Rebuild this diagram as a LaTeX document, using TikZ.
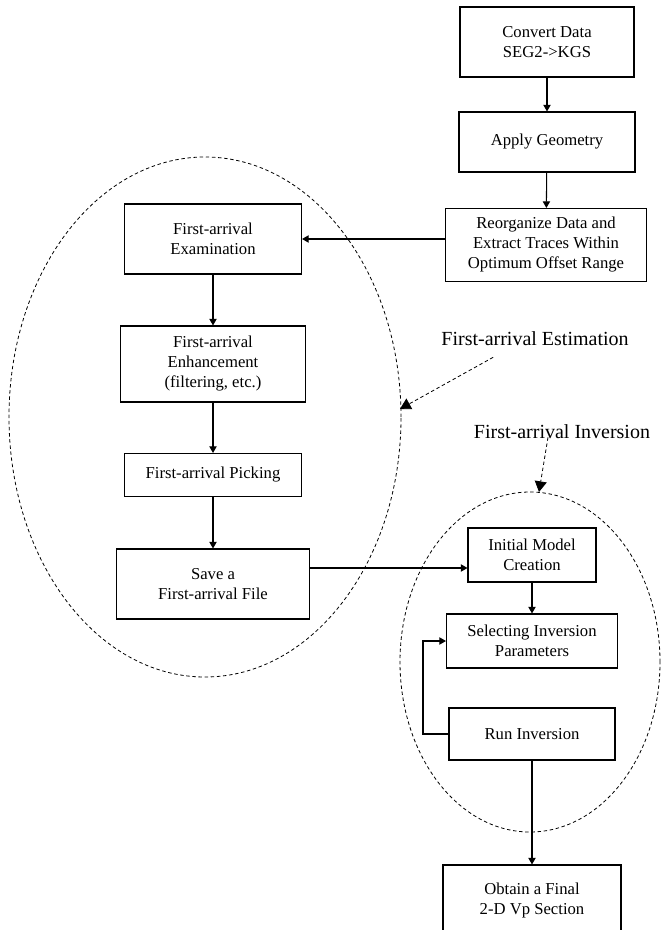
\documentclass[tikz,border=0pt]{standalone}
\usepackage{fontspec}
\setmainfont{Liberation Serif}
\usetikzlibrary{arrows.meta,calc,shapes.geometric}
\begin{document}
\begin{tikzpicture}[x=0.75pt,y=-0.75pt,
  box/.style={draw, line width=0.8pt, align=center, font=\fontsize{12.5}{15}\selectfont, inner sep=0pt},
  sz/.style n args={2}{minimum width=#1*0.75pt, minimum height=#2*0.75pt},
  arr/.style={line width=0.8pt, -{Triangle[length=5pt,width=5.5pt]}},
  dsh/.style={dash pattern=on 2.6pt off 2pt, line width=0.6pt},
  grp/.style={draw, dsh, ellipse, inner sep=0pt, outer sep=0pt},
  lbl/.style={font=\fontsize{15}{18}\selectfont, inner sep=0pt},
  larr/.style={dsh, -{Triangle[length=8pt,width=9pt]}}]
\useasboundingbox (0,0) rectangle (666,930);
% groups
\node[grp, sz={392}{520}] (g1) at (205,417) {};
\node[grp, sz={260}{340}] (g2) at (530,662) {};
% boxes
\node[box, sz={174}{70}] (b1) at (547,42) {Convert Data\\SEG2->KGS};
\node[box, sz={176}{60}] (b2) at (547,142) {Apply Geometry};
\node[box, sz={201}{73}] (b3) at (546,245) {Reorganize Data and\\Extract Traces Within\\Optimum Offset Range};
\node[box, sz={177}{70}] (e1) at (213,239) {First-arrival\\Examination};
\node[box, sz={185}{76}] (e2) at (213,364) {First-arrival\\Enhancement\\(filtering, etc.)};
\node[box, sz={177}{43}] (e3) at (213,475) {First-arrival Picking};
\node[box, sz={193}{70}] (e4) at (213,584) {Save a\\First-arrival File};
\node[box, sz={128}{54}] (i1) at (532,555) {Initial Model\\Creation};
\node[box, sz={171}{54}] (i2) at (532,641) {Selecting Inversion\\Parameters};
\node[box, sz={166}{52}] (i3) at (532,734) {Run Inversion};
\node[box, sz={178}{70}] (f) at (532,900) {Obtain a Final\\2-D Vp Section};
% labels
\node[lbl] (est) at (535,339) {First-arrival Estimation};
\node[lbl] (inv) at (562,432) {First-arrival Inversion};
% connectors
\draw[arr] (b1) -- (b2);
\draw[arr] (b2) -- (b3);
\draw[arr] (b3.west |- e1.east) -- (e1.east);
\draw[arr] (e1) -- (e2);
\draw[arr] (e2) -- (e3);
\draw[arr] (e3) -- (e4);
\coordinate (lk) at (0,568);
\draw[arr] (e4.east |- lk) -- (i1.west |- lk);
\draw[arr] (i1) -- (i2);
\coordinate (fb) at (423,0);
\draw[arr] (i3.west) -- (fb |- i3.west) |- (i2.west);
\draw[arr] (i3) -- (f);
% label arrows
\draw[larr] ($(est.south west)+(52,11)$) -- ($(g1.east)+(-1,-8)$);
\draw[larr] ($(inv.south)+(-14,-2)$) -- ($(g2.north)+(9,0)$);
\end{tikzpicture}
\end{document}
